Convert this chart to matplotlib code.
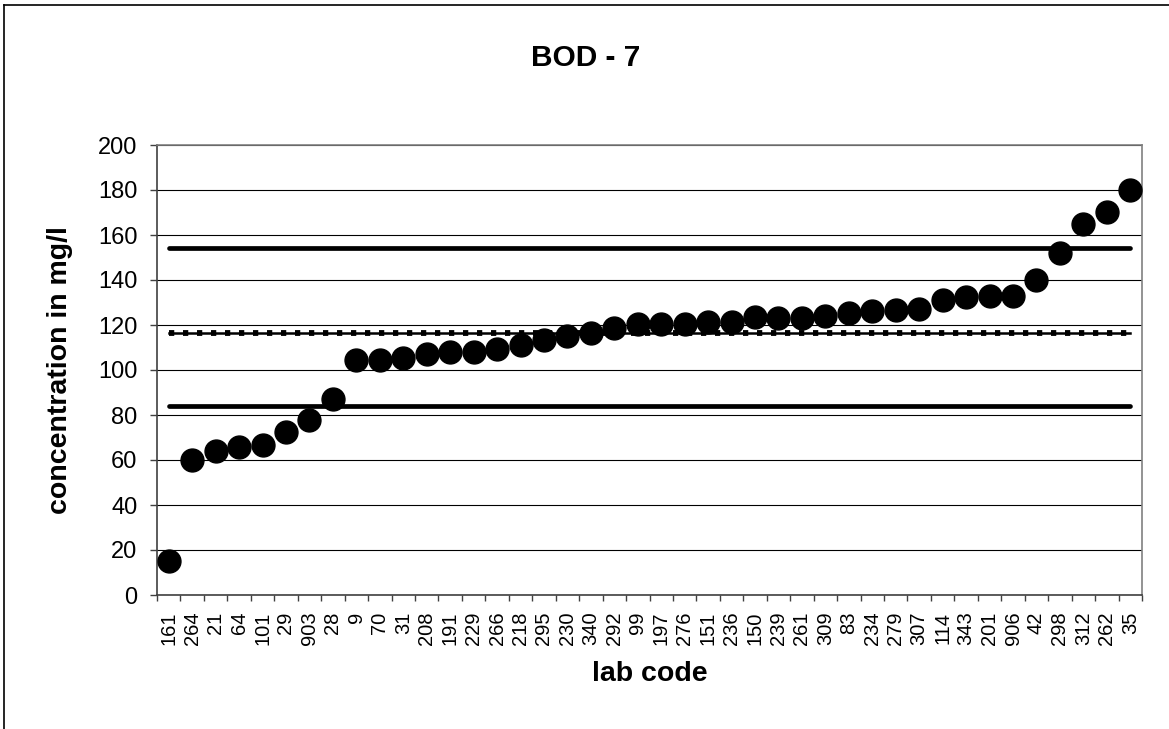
import matplotlib
matplotlib.use("Agg")
import matplotlib.pyplot as plt
from matplotlib.lines import Line2D

plt.rcParams['font.family'] = ['Liberation Sans', 'DejaVu Sans']

# lab codes, sorted by reported value
lab_codes = ['161', '264', '21', '64', '101', '29', '903', '28', '9', '70',
             '31', '208', '191', '229', '266', '218', '295', '230', '340', '292',
             '99', '197', '276', '151', '236', '150', '239', '261', '309', '83',
             '234', '279', '307', '114', '343', '201', '906', '42', '298', '312',
             '262', '35']
values = [15, 60, 64, 66, 66.5, 72.5, 78, 87.3, 104.4, 104.3,
          105.3, 107.3, 108.2, 108.2, 109.3, 111.2, 113.3, 115.2, 116.3, 118.7,
          120.4, 120.4, 120.4, 121.2, 121.2, 123.4, 123.1, 123.1, 124.2, 125.2,
          126.1, 126.8, 127.1, 131.1, 132.3, 133.1, 133.1, 140.2, 152.1, 165.0,
          170.2, 180.2]

# assigned value and tolerance limits
mean_value = 116.4
upper_limit = 154.3
lower_limit = 83.9

y_ticks = [0, 20, 40, 60, 80, 100, 120, 140, 160, 180, 200]

W, H = 1169, 729
fig = plt.figure(figsize=(W / 100, H / 100), dpi=100)
ax = fig.add_axes([157 / W, 1 - 595 / H, (1142 - 157) / W, 450 / H])

x = list(range(len(lab_codes)))
x_ends = [x[0], x[-1]]

ax.plot(x_ends, [upper_limit] * 2, color='black', lw=3.4, solid_capstyle='round', zorder=3)
ax.plot(x_ends, [lower_limit] * 2, color='black', lw=3.4, solid_capstyle='round', zorder=3)
ax.plot(x_ends, [mean_value] * 2, color='black', lw=1.8, zorder=3)
ax.plot(x_ends, [mean_value] * 2, color='black', lw=4.2,
        linestyle=(0, (0.9, 1.5)), dash_capstyle='butt', zorder=3)

ax.plot(x, values, linestyle='none', marker='o', markersize=16.5,
        color='black', zorder=4, clip_on=False)

ax.set_xlim(-0.5, len(lab_codes) - 0.5)
ax.set_ylim(0, 200)
ax.set_yticks(y_ticks)
# category boundaries carry the tick marks, centres carry the labels
ax.set_xticks([i - 0.5 for i in range(len(lab_codes) + 1)], minor=False)
ax.set_xticklabels([])
ax.set_xticks(x, minor=True)
ax.set_xticklabels(lab_codes, minor=True, rotation=90, fontsize=14.5)

ax.tick_params(axis='x', which='major', length=4.5, width=1, color='#404040')
ax.tick_params(axis='x', which='minor', length=0, pad=12)
ax.tick_params(axis='y', length=5, width=1, color='#404040', labelsize=17, pad=9)

ax.grid(axis='y', color='black', lw=0.8, zorder=1)
ax.set_axisbelow(True)

for side in ['top', 'right']:
    ax.spines[side].set_color('#808080')
    ax.spines[side].set_linewidth(1.2)
for side in ['left', 'bottom']:
    ax.spines[side].set_color('#404040')
    ax.spines[side].set_linewidth(1.2)

fig.text(586 / W, 1 - 58 / H, 'BOD - 7', ha='center', va='center',
         fontsize=21.5, fontweight='bold')
fig.text(650 / W, 1 - 674 / H, 'lab code', ha='center', va='center',
         fontsize=20.5, fontweight='bold')
fig.text(60 / W, 1 - 370 / H, 'concentration in mg/l', ha='center', va='center',
         rotation=90, fontsize=20.5, fontweight='bold')

# outer chart frame (only top and left edges fall inside the image)
fig.add_artist(Line2D([4 / W, 1], [1 - 5 / H, 1 - 5 / H], color='black', lw=1.2,
                      transform=fig.transFigure))
fig.add_artist(Line2D([4 / W, 4 / W], [0, 1 - 5 / H], color='black', lw=1.2,
                      transform=fig.transFigure))

fig.savefig('out.png', dpi=100)
